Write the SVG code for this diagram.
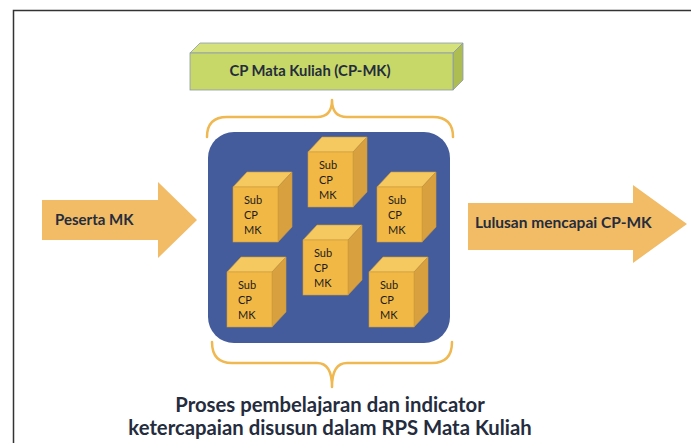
<svg xmlns="http://www.w3.org/2000/svg" width="691" height="443" viewBox="0 0 691 443">
<style>
.t{font-family:Lato,"Liberation Sans",sans-serif;font-weight:bold;fill:#242c3d}
.cf{fill:#f2b845;stroke:#c99a3a;stroke-width:0.6}
.ct{fill:#f6c860;stroke:#c99a3a;stroke-width:0.6}
.cs{fill:#d9a03f;stroke:#c99a3a;stroke-width:0.6}
.ctx{font-family:Lato,"Liberation Sans",sans-serif;font-size:11px;fill:#1c1c1c}
.br{fill:none;stroke:#f0b850;stroke-width:2.5;stroke-linecap:round;stroke-linejoin:round}
.ar{fill:#f2bb66}
</style>
<defs>
<g id="cube">
<polygon class="ct" points="0,0 14,-15 59,-15 45,0"/>
<polygon class="cs" points="45,0 59,-15 59,40 45,55"/>
<rect class="cf" x="0" y="0" width="45" height="55"/>
<text class="ctx" x="11" y="17">Sub</text>
<text class="ctx" x="11" y="32">CP</text>
<text class="ctx" x="11" y="47">MK</text>
</g>
</defs>
<rect width="691" height="443" fill="#ffffff"/>
<path d="M13.5,443 V10.5 H691" fill="none" stroke="#333" stroke-width="1.5"/>

<g id="cpmk-bar">
<polygon points="190,53 200,43 463,43 453,53" fill="#d5e27c" stroke="#8a9ab0" stroke-width="0.8"/>
<polygon points="453,53 463,43 463,80 453,90" fill="#aebd52" stroke="#8a9ab0" stroke-width="0.8"/>
<rect x="190" y="53" width="263" height="37" fill="#c8d868" stroke="#8a9ab0" stroke-width="0.8"/>
<text class="t" x="310" y="76" font-size="14.8" text-anchor="middle">CP Mata Kuliah (CP-MK)</text>
</g>

<g id="connectors">
<path class="br" d="M207,137 Q207,117 227,117 H317 Q332,117 332,100 Q332,117 347,117 H433 Q453,117 453,137"/>
<path class="br" d="M212,342 Q212,363 232,363 H317 Q332,363 332,387 Q332,363 347,363 H432 Q452,363 452,342"/>
</g>

<g id="peserta">
<polygon class="ar" points="42,200 158,200 158,182 197,220 158,258 158,240 42,240"/>
<text class="t" x="55" y="225" font-size="15">Peserta MK</text>
</g>

<g id="lulusan">
<polygon class="ar" points="468,203 633,203 633,185 687,224 633,263 633,250 468,250" />
<text class="t" x="475" y="228" font-size="15.5">Lulusan mencapai CP-MK</text>
</g>

<g id="process">
<rect x="208" y="132" width="242" height="211" rx="26" fill="#445c9c"/>
</g>
<g id="sub1"><use href="#cube" x="308" y="152"/></g>
<g id="sub2"><use href="#cube" x="233" y="187"/></g>
<g id="sub3"><use href="#cube" x="377" y="187"/></g>
<g id="sub4"><use href="#cube" x="303" y="240"/></g>
<g id="sub5"><use href="#cube" x="227" y="272"/></g>
<g id="sub6"><use href="#cube" x="369" y="272"/></g>

<g id="caption">
<text class="t" x="330" y="412" font-size="20.3" text-anchor="middle">Proses pembelajaran dan indicator</text>
<text class="t" x="330" y="435" font-size="20.3" text-anchor="middle">ketercapaian disusun dalam RPS Mata Kuliah</text>
</g>
</svg>
